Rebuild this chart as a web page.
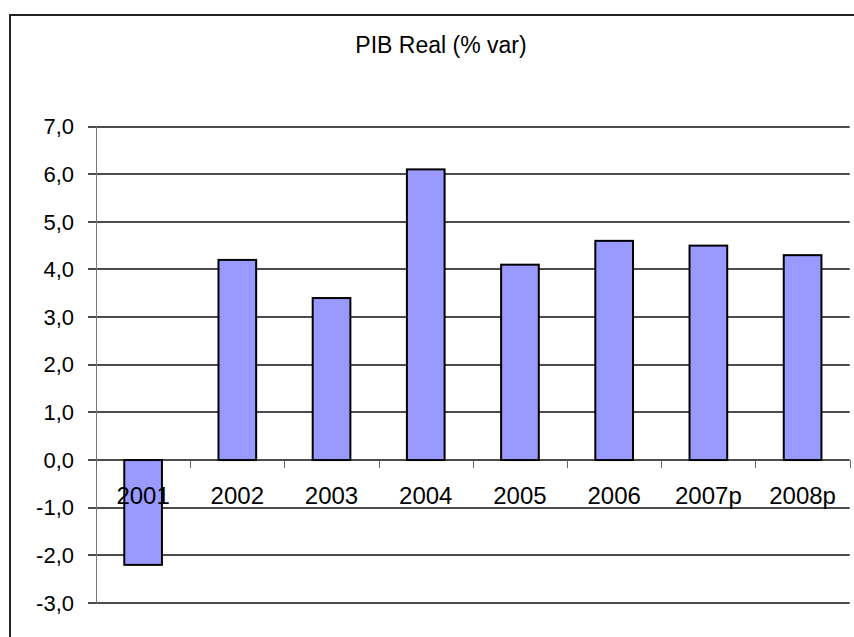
<!DOCTYPE html>
<html>
<head>
<meta charset="utf-8">
<script src="https://cdn.jsdelivr.net/npm/d3@7"></script>
<style>
  body { margin: 0; background: #fff; }
  text { font-family: "Liberation Sans", Arial, sans-serif; fill: #000; }
</style>
</head>
<body>
<div id="root"></div>
<script>
// Data
const years = ["2001", "2002", "2003", "2004", "2005", "2006", "2007p", "2008p"];
const pibVar = [-2.2, 4.2, 3.4, 6.1, 4.1, 4.6, 4.5, 4.3];
const yTicks = [-3, -2, -1, 0, 1, 2, 3, 4, 5, 6, 7];

// Size of the chart
const width = 854;
const height = 637;

const svg = d3
  .select("#root")
  .append("svg")
  .attr("width", width)
  .attr("height", height);

// Outer frame
svg
  .append("rect")
  .attr("x", 10)
  .attr("y", 15)
  .attr("width", 860)
  .attr("height", 640)
  .attr("fill", "none")
  .attr("stroke", "#222")
  .attr("stroke-width", 2);

// Scales
const xScale = d3
  .scaleBand()
  .domain(years)
  .range([96, 849.7])
  .paddingInner(0.6)
  .paddingOuter(0.3);

const yScale = d3
  .scaleLinear()
  .domain([-3, 7])
  .range([603, 126.5]);

const fmt = d => d3.format(".1f")(d).replace(".", ",").replace("−", "-");

// Gridlines
svg
  .append("g")
  .selectAll("line")
  .data(yTicks)
  .enter()
  .append("line")
  .attr("x1", 88)
  .attr("x2", 849.7)
  .attr("y1", d => Math.round(yScale(d)))
  .attr("y2", d => Math.round(yScale(d)))
  .attr("stroke", "#111")
  .attr("stroke-width", 1.3);

// Y axis line
svg
  .append("line")
  .attr("x1", 96.5)
  .attr("x2", 96.5)
  .attr("y1", yScale(7))
  .attr("y2", yScale(-3))
  .attr("stroke", "#777")
  .attr("stroke-width", 1);

// Y tick labels
svg
  .append("g")
  .selectAll("text")
  .data(yTicks)
  .enter()
  .append("text")
  .attr("x", 74)
  .attr("y", d => yScale(d))
  .attr("dy", "0.35em")
  .attr("text-anchor", "end")
  .style("font-size", "22px")
  .text(fmt);

// Category ticks on the zero line
const step = xScale.step();
const catEdges = d3.range(years.length + 1).map(i => 96 + i * step);
svg
  .append("g")
  .selectAll("line")
  .data(catEdges)
  .enter()
  .append("line")
  .attr("x1", d => Math.round(d) + 0.5)
  .attr("x2", d => Math.round(d) + 0.5)
  .attr("y1", yScale(0))
  .attr("y2", yScale(0) + 8)
  .attr("stroke", "#666")
  .attr("stroke-width", 1);

// Bars
svg
  .append("g")
  .selectAll("rect")
  .data(pibVar)
  .enter()
  .append("rect")
  .attr("x", (d, i) => xScale(years[i]))
  .attr("width", xScale.bandwidth())
  .attr("y", d => yScale(Math.max(0, d)))
  .attr("height", d => Math.abs(yScale(d) - yScale(0)))
  .attr("fill", "#9999ff")
  .attr("stroke", "#000")
  .attr("stroke-width", 2);

// Category labels
svg
  .append("g")
  .selectAll("text")
  .data(years)
  .enter()
  .append("text")
  .attr("x", d => xScale(d) + xScale.bandwidth() / 2)
  .attr("y", 504)
  .attr("text-anchor", "middle")
  .style("font-size", "24px")
  .text(d => d);

// Title
svg
  .append("text")
  .attr("x", 441)
  .attr("y", 53)
  .attr("text-anchor", "middle")
  .style("font-size", "23px")
  .text("PIB Real (% var)");
</script>
</body>
</html>
